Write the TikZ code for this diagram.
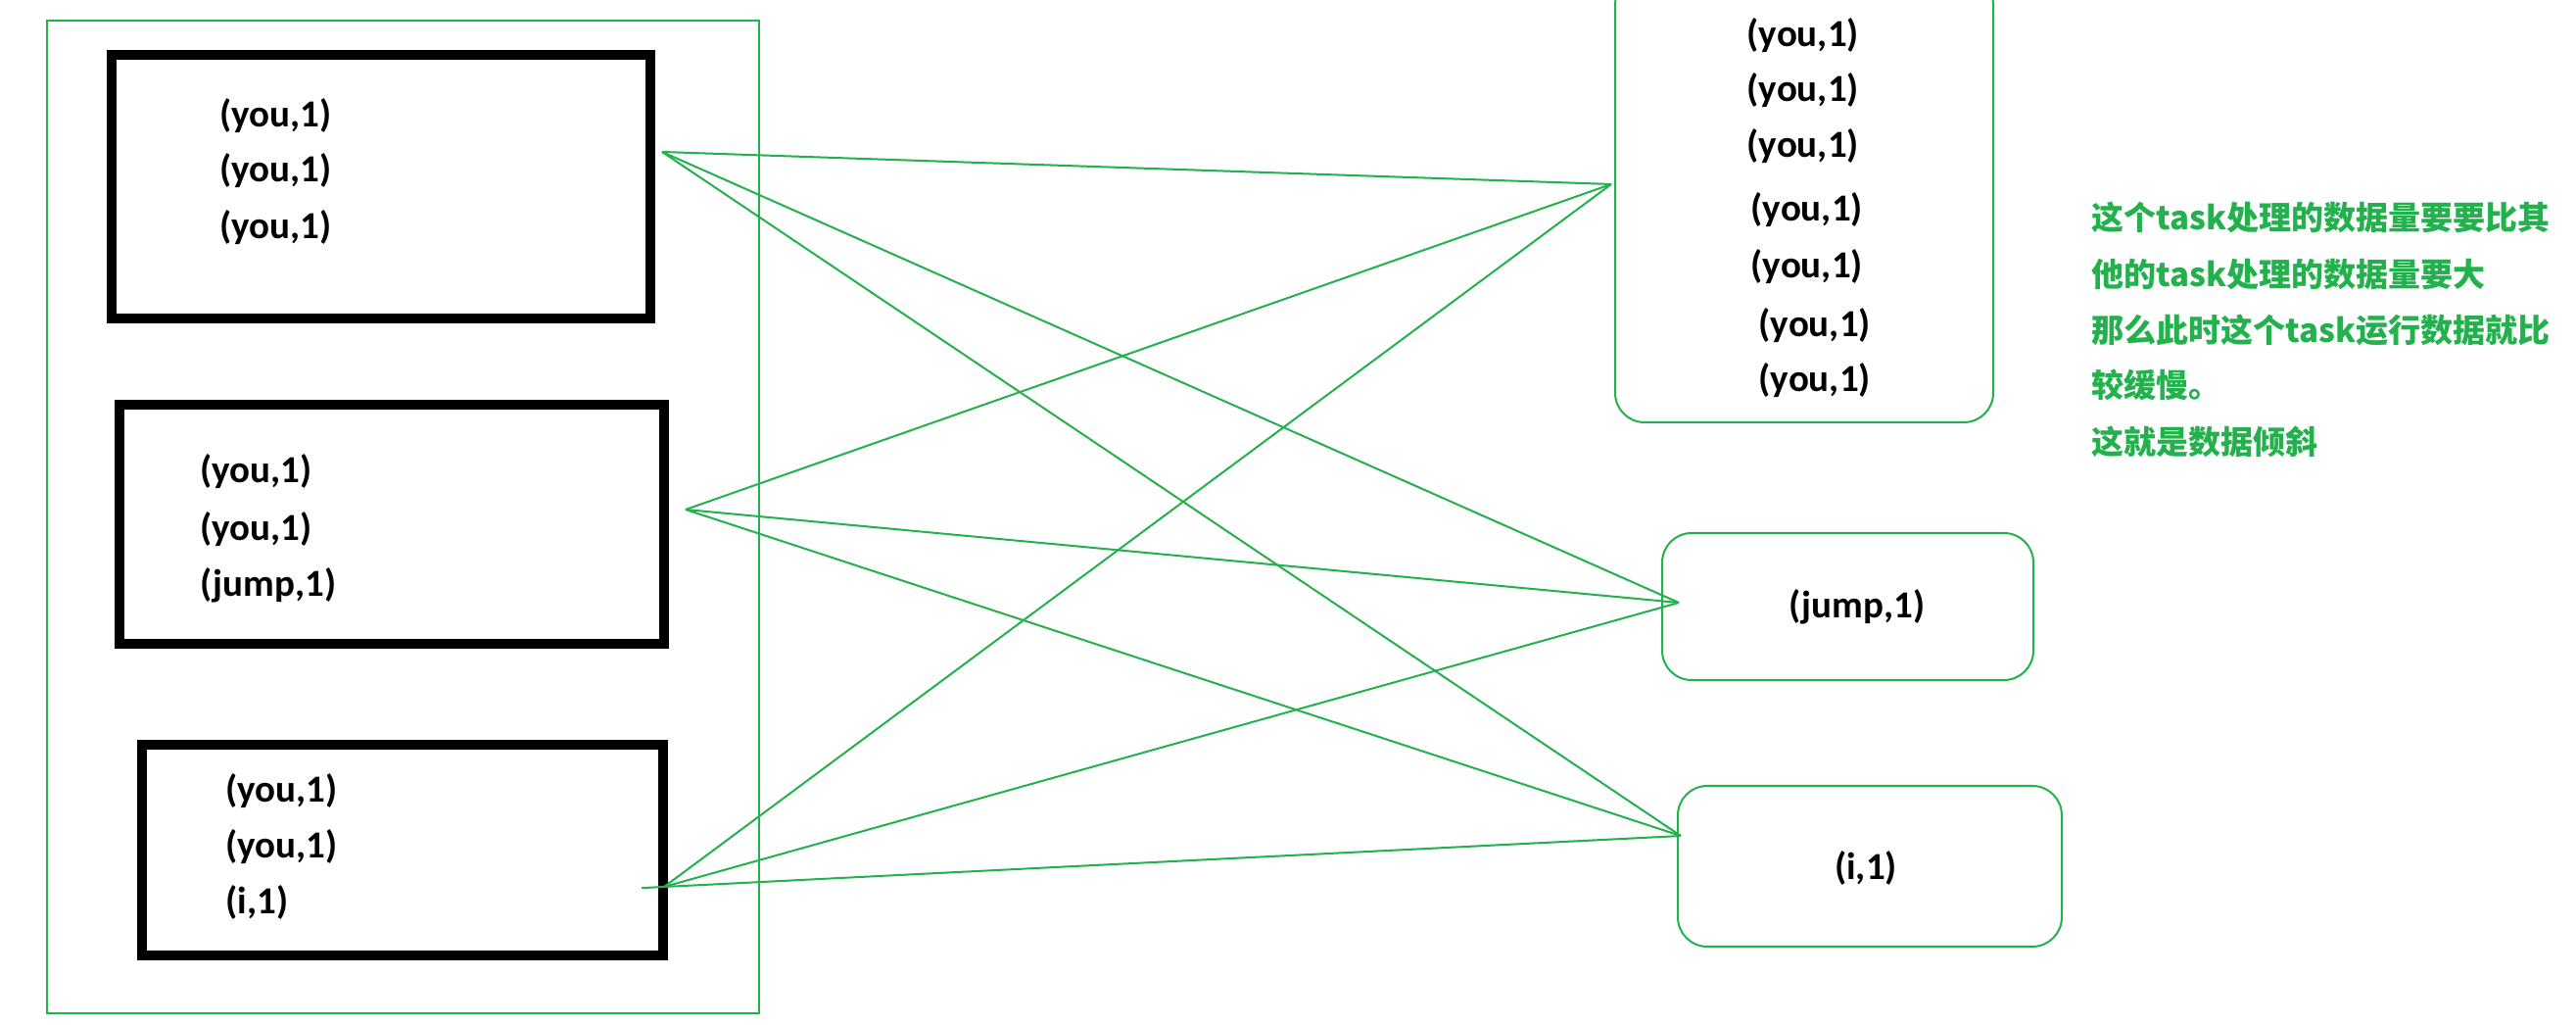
\documentclass[tikz,border=0pt]{standalone}
\usepackage{fontspec}
\setmainfont{Carlito}
\newfontfamily\cjk{Noto Sans CJK SC}
\usetikzlibrary{positioning}
\definecolor{paintgreen}{RGB}{34,177,76}
\tikzstyle{every pair} = []
\tikzstyle{pair} = [font=\bfseries\fontsize{11.1pt}{13pt}\selectfont, inner sep=0pt, every pair]
\tikzstyle{shuffle} = [draw=paintgreen, line width=0.02cm]

\begin{document}
\begin{tikzpicture}
        \tikzstyle{splitbox} = [rectangle, draw=black, line width=0.1cm]
        \tikzstyle{taskbox} = [rectangle, draw=paintgreen, line width=0.02cm, rounded corners=0.3cm]
        \tikzstyle{note} = [font=\cjk\bfseries\fontsize{9.4pt}{11pt}\selectfont, text=paintgreen, anchor=west, inner sep=0pt]
        \useasboundingbox (0,0) rectangle (26.3,-10.46);

        \node[rectangle, draw=paintgreen, line width=0.02cm, minimum width=7.27cm, minimum height=10.13cm] (stage) at (4.115,-5.275) {};

        \node[splitbox, minimum width=5.50cm, minimum height=2.69cm] (split1) at (3.89,-1.905) {};
        \node[pair, anchor=west] (p11) at (2.24,-1.18) {(you,1)};
        \node[pair, anchor=west] (p12) at (2.24,-1.74) {(you,1)};
        \node[pair, anchor=west] (p13) at (2.24,-2.32) {(you,1)};

        \node[splitbox, minimum width=5.56cm, minimum height=2.44cm] (split2) at (4.00,-5.35) {};
        \node[pair, anchor=west] (p21) at (2.04,-4.81) {(you,1)};
        \node[pair, anchor=west] (p22) at (2.04,-5.40) {(you,1)};
        \node[pair, anchor=west] (p23) at (2.04,-5.97) {(jump,1)};

        \node[splitbox, minimum width=5.32cm, minimum height=2.15cm] (split3) at (4.11,-8.675) {};
        \node[pair, anchor=west] (p31) at (2.30,-8.07) {(you,1)};
        \node[pair, anchor=west] (p32) at (2.30,-8.64) {(you,1)};
        \node[pair, anchor=west] (p33) at (2.30,-9.21) {(i,1)};

        \node[taskbox, minimum width=3.86cm, minimum height=4.56cm] (taskyou) at (18.42,-2.03) {};
        \node[pair, anchor=west] (y1) at (17.83,-0.36) {(you,1)};
        \node[pair, anchor=west] (y2) at (17.83,-0.92) {(you,1)};
        \node[pair, anchor=west] (y3) at (17.83,-1.49) {(you,1)};
        \node[pair, anchor=west] (y4) at (17.87,-2.14) {(you,1)};
        \node[pair, anchor=west] (y5) at (17.87,-2.72) {(you,1)};
        \node[pair, anchor=west] (y6) at (17.95,-3.32) {(you,1)};
        \node[pair, anchor=west] (y7) at (17.95,-3.88) {(you,1)};

        \node[taskbox, minimum width=3.79cm, minimum height=1.50cm] (taskjump) at (18.865,-6.19) {};
        \node[pair] (j1) at (18.96,-6.19) {(jump,1)};

        \node[taskbox, minimum width=3.92cm, minimum height=1.64cm] (taski) at (19.09,-8.84) {};
        \node[pair] (i1) at (19.05,-8.86) {(i,1)};

        \node[note] (n1) at (21.35,-2.22) {这个task处理的数据量要要比其};
        \node[note] (n2) at (21.35,-2.80) {他的task处理的数据量要大};
        \node[note] (n3) at (21.35,-3.37) {那么此时这个task运行数据就比};
        \node[note] (n4) at (21.35,-3.93) {较缓慢。};
        \node[note] (n5) at (21.35,-4.51) {这就是数据倾斜};

        \coordinate (out1) at (6.76,-1.55);
        \coordinate (out2) at (7.00,-5.20);
        \coordinate (out3) at (6.78,-9.05);
        \coordinate (in1) at (16.45,-1.88);
        \coordinate (in2) at (17.14,-6.15);
        \coordinate (in3) at (17.16,-8.53);

        \draw[shuffle] (out1) -- (in1);
        \draw[shuffle] (out1) -- (in2);
        \draw[shuffle] (out1) -- (in3);
        \draw[shuffle] (out2) -- (in1);
        \draw[shuffle] (out2) -- (in2);
        \draw[shuffle] (out2) -- (in3);
        \draw[shuffle] (out3) -- (in1);
        \draw[shuffle] (out3) -- (in2);
        \draw[shuffle, shorten <=-0.23cm] (out3) -- (in3);
    \end{tikzpicture}
\end{document}
